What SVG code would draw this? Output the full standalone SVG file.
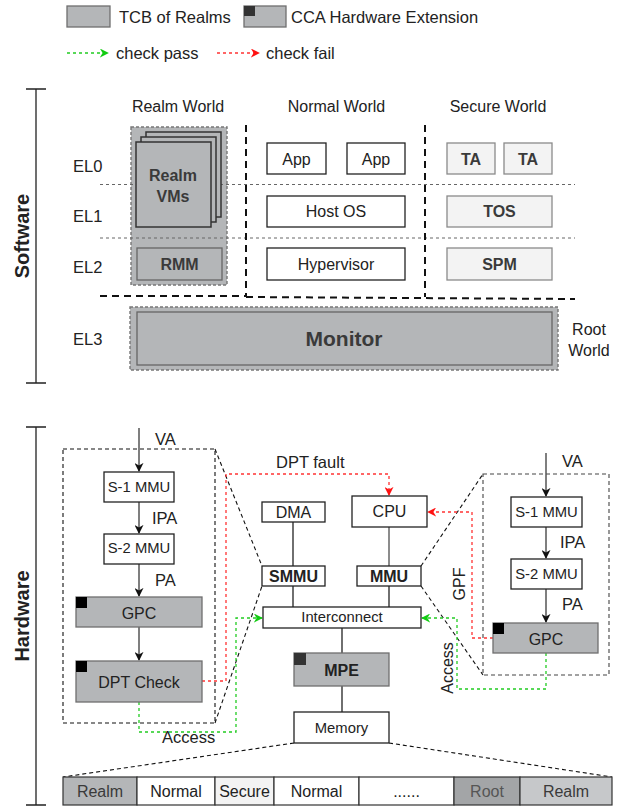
<svg xmlns="http://www.w3.org/2000/svg" width="625" height="808" viewBox="0 0 625 808">
<style>
text{font-family:"Liberation Sans",Arial,sans-serif;fill:#222;}
.t{font-size:16.5px;}
.m{font-size:16px;text-anchor:middle;}
.s{font-size:14.8px;text-anchor:middle;}
.b{font-weight:bold;}
.dk{fill:#3a3a3a;}
.tcb{fill:#b4b6b8;stroke:#6f6f6f;stroke-width:1.3;}
.wb{fill:#fff;stroke:#222;stroke-width:1.3;}
.sec{fill:#f3f3f3;stroke:#8a8a8a;stroke-width:1.3;}
.dot{stroke:#666;stroke-width:1;stroke-dasharray:3,3;fill:none;}
.bd{stroke:#111;stroke-width:2;stroke-dasharray:7,5;fill:none;}
.zd{stroke:#111;stroke-width:1.1;stroke-dasharray:4,3;fill:none;}
.red{stroke:#ff3333;stroke-width:1.3;stroke-dasharray:3,3;fill:none;}
.grn{stroke:#22cc22;stroke-width:1.3;stroke-dasharray:3,3;fill:none;}
.ln{stroke:#222;stroke-width:1.3;fill:none;}
.lg{stroke:#555;stroke-width:1.5;fill:none;}
</style>
<defs>
<marker id="ak" viewBox="0 0 10 10" refX="9" refY="5" markerWidth="9" markerHeight="9" orient="auto" markerUnits="userSpaceOnUse"><path d="M0,0 L10,5 L0,10 L3,5 z" fill="#111"/></marker>
<marker id="ar" viewBox="0 0 10 10" refX="9" refY="5" markerWidth="9" markerHeight="9" orient="auto" markerUnits="userSpaceOnUse"><path d="M0,0 L10,5 L0,10 L3,5 z" fill="#ff1111"/></marker>
<marker id="ag" viewBox="0 0 10 10" refX="9" refY="5" markerWidth="9" markerHeight="9" orient="auto" markerUnits="userSpaceOnUse"><path d="M0,0 L10,5 L0,10 L3,5 z" fill="#11cc11"/></marker>
</defs>

<!-- Legend -->
<g id="legend">
<rect class="tcb" x="67" y="6" width="43" height="21"/>
<text class="t" x="119" y="23">TCB of Realms</text>
<rect class="tcb" x="244" y="6" width="42" height="21"/>
<rect x="244" y="6" width="11" height="10" fill="#333"/>
<text class="t" x="291" y="23">CCA Hardware Extension</text>
<line class="grn" x1="67" y1="53" x2="108" y2="53" marker-end="url(#ag)"/>
<text class="t" x="116" y="59">check pass</text>
<line class="red" x1="217" y1="53" x2="259" y2="53" marker-end="url(#ar)"/>
<text class="t" x="266" y="59">check fail</text>
</g>

<!-- Brackets -->
<g id="software-bracket">
<path class="ln" d="M26,89 H46 M36,89 V383 M26,383 H46"/>
<text class="b" font-size="20" text-anchor="middle" transform="translate(29,236) rotate(-90)">Software</text>
</g>
<g id="hardware-bracket">
<path class="ln" d="M26,427 H46 M36,427 V805 M26,805 H46"/>
<text class="b" font-size="20" text-anchor="middle" transform="translate(29,616) rotate(-90)">Hardware</text>
</g>

<!-- Software section -->
<g id="headers">
<text class="m" x="178" y="112" font-size="17">Realm World</text>
<text class="m" x="336.5" y="112" font-size="17">Normal World</text>
<text class="m" x="498" y="112" font-size="17">Secure World</text>
<text class="t" x="73" y="172">EL0</text>
<text class="t" x="73" y="222">EL1</text>
<text class="t" x="73" y="273">EL2</text>
<text class="t" x="73" y="345">EL3</text>
<text class="m" x="589" y="335" font-size="16.5">Root</text>
<text class="m" x="589" y="356" font-size="16.5">World</text>
</g>

<g id="realm-world">
<rect x="131" y="127" width="96" height="158" fill="#b4b6b8" stroke="#777" stroke-width="1.4" stroke-dasharray="3,2"/>
</g>

<g id="separators">
<line class="dot" x1="100" y1="184.5" x2="575" y2="184.5"/>
<line class="dot" x1="100" y1="238" x2="575" y2="238"/>
<line class="bd" x1="246" y1="125" x2="246" y2="297"/>
<line class="bd" x1="425" y1="125" x2="425" y2="297"/>
<line class="bd" x1="100" y1="296" x2="246" y2="296"/>
<line class="bd" x1="246" y1="297" x2="575" y2="299"/>
</g>

<g id="realm-vms">
<rect x="146" y="132" width="75" height="85" fill="#b4b6b8" stroke="#333" stroke-width="1.5"/>
<rect x="141" y="137" width="75" height="85" fill="#b4b6b8" stroke="#333" stroke-width="1.5"/>
<rect x="136" y="142" width="75" height="85" fill="#b4b6b8" stroke="#333" stroke-width="1.5"/>
<text class="m b dk" x="173" y="181">Realm</text>
<text class="m b dk" x="173" y="202">VMs</text>
</g>
<g id="rmm">
<rect x="137" y="248" width="85" height="32" fill="#b4b6b8" stroke="#666" stroke-width="1.3"/>
<text class="m b dk" x="179.5" y="270">RMM</text>
</g>

<g id="app1"><rect class="wb" x="267" y="143" width="59" height="31"/><text class="m" x="296.5" y="165">App</text></g>
<g id="app2"><rect class="wb" x="347" y="143" width="58" height="31"/><text class="m" x="376" y="165">App</text></g>
<g id="host-os"><rect class="wb" x="267" y="196" width="138" height="31"/><text class="m" x="336" y="217">Host OS</text></g>
<g id="hypervisor"><rect class="wb" x="267" y="248" width="138" height="32"/><text class="m" x="336" y="270">Hypervisor</text></g>

<g id="ta1"><rect class="sec" x="447" y="143" width="48" height="31"/><text class="m b dk" x="471" y="165">TA</text></g>
<g id="ta2"><rect class="sec" x="504" y="143" width="48" height="31"/><text class="m b dk" x="528" y="165">TA</text></g>
<g id="tos"><rect class="sec" x="447" y="196" width="105" height="31"/><text class="m b dk" x="499.5" y="217">TOS</text></g>
<g id="spm"><rect class="sec" x="447" y="248" width="105" height="32"/><text class="m b dk" x="499.5" y="270">SPM</text></g>

<g id="monitor">
<rect x="130" y="307" width="428" height="63" fill="#b4b6b8" stroke="#777" stroke-width="1.4" stroke-dasharray="3,2"/>
<rect x="137" y="312" width="415" height="53" fill="#b4b6b8" stroke="#666" stroke-width="1.3"/>
<text class="b dk" x="344" y="346" font-size="21" text-anchor="middle">Monitor</text>
</g>

<!-- Hardware section -->
<g id="connectors">
<!-- zoom lines -->
<rect class="zd" x="63" y="449" width="152" height="274"/>
<path class="zd" d="M215,449 L262,566 M215,723 L262,586"/>
<rect x="483" y="474" width="126" height="201" fill="none" stroke="#444" stroke-width="1.1" stroke-dasharray="4,3"/>
<path class="zd" d="M421,566 L483,474 M421,586 L483,675"/>
<path class="zd" d="M294,743 L63,777 M389,743 L612,777"/>
<!-- left chain -->
<line class="lg" x1="139" y1="428" x2="139" y2="471" marker-end="url(#ak)"/>
<line class="lg" x1="139" y1="502" x2="139" y2="533" marker-end="url(#ak)"/>
<line class="lg" x1="139" y1="564" x2="139" y2="596" marker-end="url(#ak)"/>
<line class="lg" x1="139" y1="627" x2="139" y2="660" marker-end="url(#ak)"/>
<!-- right chain -->
<line class="lg" x1="546" y1="453" x2="546" y2="496" marker-end="url(#ak)"/>
<line class="lg" x1="546" y1="527" x2="546" y2="558" marker-end="url(#ak)"/>
<line class="lg" x1="546" y1="589" x2="546" y2="622" marker-end="url(#ak)"/>
<!-- bus -->
<line class="ln" x1="293" y1="522" x2="293" y2="566"/>
<line x1="389" y1="527" x2="389" y2="566" stroke="#666" stroke-width="1.5"/>
<line class="ln" x1="293" y1="586" x2="293" y2="607"/>
<line class="ln" x1="389" y1="586" x2="389" y2="607"/>
<line class="ln" x1="342" y1="628" x2="342" y2="653"/>
<line class="ln" x1="342" y1="686" x2="342" y2="712"/>
<!-- check fail -->
<path class="red" d="M202,681 H226 V474 H389 V495" marker-end="url(#ar)"/>
<path class="red" d="M493,638 H472 V512 H428" marker-end="url(#ar)"/>
<!-- check pass -->
<path class="grn" d="M139,702 V732 H236 V618 H262" marker-end="url(#ag)"/>
<path class="grn" d="M546,653 V689 H457 V618 H422" marker-end="url(#ag)"/>
</g>

<g id="hw-labels">
<text class="t" x="155" y="445">VA</text>
<text class="t" x="152" y="524">IPA</text>
<text class="t" x="155" y="586">PA</text>
<text class="t" x="162" y="743">Access</text>
<text class="t" x="276" y="468">DPT fault</text>
<text class="t" x="562" y="467">VA</text>
<text class="t" x="560" y="548">IPA</text>
<text class="t" x="562" y="610">PA</text>
<text class="m" transform="translate(465,584) rotate(-90)">GPF</text>
<text class="m" transform="translate(453,668) rotate(-90)">Access</text>
</g>

<g id="l-s1mmu"><rect class="wb" x="104" y="472" width="70" height="30"/><text class="s" x="139" y="492">S-1 MMU</text></g>
<g id="l-s2mmu"><rect class="wb" x="104" y="534" width="70" height="30"/><text class="s" x="139" y="553">S-2 MMU</text></g>
<g id="l-gpc"><rect class="tcb" x="76" y="597" width="126" height="30" stroke="#888"/><rect x="76" y="597" width="11" height="11" fill="#000"/><text class="m" x="139" y="619" font-size="16.6">GPC</text></g>
<g id="dpt-check"><rect class="tcb" x="76" y="661" width="126" height="41" stroke="#888"/><rect x="76" y="661" width="11" height="11" fill="#000"/><text class="m" x="139" y="688" font-size="16.6">DPT Check</text></g>

<g id="dma"><rect class="wb" x="262" y="502" width="63" height="20"/><text class="m" x="293.5" y="518" font-size="15.3">DMA</text></g>
<g id="cpu"><rect class="wb" x="352" y="496" width="75" height="31"/><text class="m" x="389.5" y="517" font-size="15.3">CPU</text></g>
<g id="smmu"><rect class="wb" x="262" y="566" width="63" height="20"/><text class="m b" x="293.5" y="582" font-size="15.5">SMMU</text></g>
<g id="mmu"><rect class="wb" x="357" y="566" width="64" height="20"/><text class="m b" x="389" y="582" font-size="15.5">MMU</text></g>
<g id="interconnect"><rect class="wb" x="263" y="607" width="158" height="21"/><text class="s" x="342" y="622">Interconnect</text></g>
<g id="mpe"><rect class="tcb" x="294" y="653" width="95" height="33" stroke="#777"/><rect x="294" y="653" width="12" height="12" fill="#333"/><text class="m b" x="341.5" y="676" font-size="17">MPE</text></g>
<g id="memory"><rect class="wb" x="294" y="712" width="95" height="31"/><text class="s" x="341.5" y="733">Memory</text></g>

<g id="r-s1mmu"><rect class="wb" x="511" y="497" width="71" height="30"/><text class="s" x="546.5" y="517">S-1 MMU</text></g>
<g id="r-s2mmu"><rect class="wb" x="511" y="559" width="71" height="30"/><text class="s" x="546.5" y="579">S-2 MMU</text></g>
<g id="r-gpc"><rect class="tcb" x="493" y="623" width="105" height="30" stroke="#888"/><rect x="493" y="623" width="11" height="11" fill="#000"/><text class="m" x="546" y="645" font-size="16.6">GPC</text></g>

<g id="memory-map">
<rect x="63" y="777" width="74" height="28" fill="#b4b6b8" stroke="#333" stroke-width="1.2"/>
<rect x="137" y="777" width="78" height="28" fill="#fff" stroke="#333" stroke-width="1.2"/>
<rect x="215" y="777" width="59" height="28" fill="#f3f3f3" stroke="#333" stroke-width="1.2"/>
<rect x="274" y="777" width="85" height="28" fill="#fff" stroke="#333" stroke-width="1.2"/>
<rect x="359" y="777" width="95" height="28" fill="#fff" stroke="#333" stroke-width="1.2"/>
<rect x="454" y="777" width="66" height="28" fill="#a3a5a7" stroke="#333" stroke-width="1.2"/>
<rect x="520" y="777" width="92" height="28" fill="#c6c8ca" stroke="#333" stroke-width="1.2"/>
<text class="m dk" x="100" y="797" font-size="16.5">Realm</text>
<text class="m" x="176" y="797" font-size="16.5">Normal</text>
<text class="m" x="244.5" y="797" font-size="16.5">Secure</text>
<text class="m" x="316.5" y="797" font-size="16.5">Normal</text>
<text class="m" x="406.5" y="797" font-size="16.5">......</text>
<text class="m" x="487" y="797" font-size="16.5" style="fill:#555">Root</text>
<text class="m dk" x="566" y="797" font-size="16.5">Realm</text>
</g>
</svg>
